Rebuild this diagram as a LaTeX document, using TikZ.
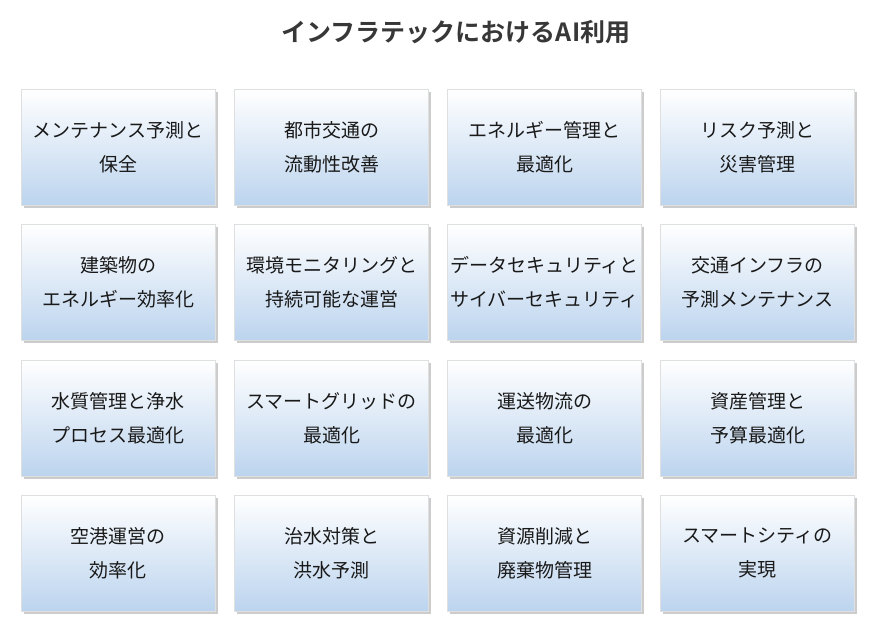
\documentclass[tikz,border=0pt]{standalone}
\usepackage{fontspec}
\usepackage{xcolor}
\usetikzlibrary{shadows}
\newfontfamily\jpfont{Noto Sans CJK JP}
\newfontfamily\jpbold{Noto Sans CJK JP Bold}
\definecolor{cardblue}{RGB}{188,212,238}
\definecolor{inkgray}{RGB}{55,55,55}

\begin{document}
\begin{tikzpicture}[x=1pt,y=-1pt]
	\tikzstyle{card}=[rectangle,minimum width=194pt,minimum height=116pt,inner sep=0pt,
		top color=white,bottom color=cardblue,draw=gray!25,align=center,
		font=\jpfont\fontsize{19}{34}\selectfont,text=black!90,
		drop shadow={shadow xshift=2.5pt,shadow yshift=-3pt,opacity=0.4}]
	\tikzstyle{heading}=[font=\jpbold\fontsize{25}{28}\selectfont,text=inkgray]
	\useasboundingbox (0,0) rectangle (872,634);
	\node[heading] (title) at (456,32) {インフラテックにおけるAI利用};
	% row 1
	\node[card] (c11) at (118,147) {メンテナンス予測と\\保全};
	\node[card] (c12) at (331.5,147) {都市交通の\\流動性改善};
	\node[card] (c13) at (544.5,147) {エネルギー管理と\\最適化};
	\node[card] (c14) at (757.5,147) {リスク予測と\\災害管理};
	% row 2
	\node[card] (c21) at (118,282) {建築物の\\エネルギー効率化};
	\node[card] (c22) at (331.5,282) {環境モニタリングと\\持続可能な運営};
	\node[card] (c23) at (544.5,282) {データセキュリティと\\サイバーセキュリティ};
	\node[card] (c24) at (757.5,282) {交通インフラの\\予測メンテナンス};
	% row 3
	\node[card] (c31) at (118,418) {水質管理と浄水\\プロセス最適化};
	\node[card] (c32) at (331.5,418) {スマートグリッドの\\最適化};
	\node[card] (c33) at (544.5,418) {運送物流の\\最適化};
	\node[card] (c34) at (757.5,418) {資産管理と\\予算最適化};
	% row 4
	\node[card] (c41) at (118,553) {空港運営の\\効率化};
	\node[card] (c42) at (331.5,553) {治水対策と\\洪水予測};
	\node[card] (c43) at (544.5,553) {資源削減と\\廃棄物管理};
	\node[card] (c44) at (757.5,553) {スマートシティの\\実現};
\end{tikzpicture}
\end{document}
